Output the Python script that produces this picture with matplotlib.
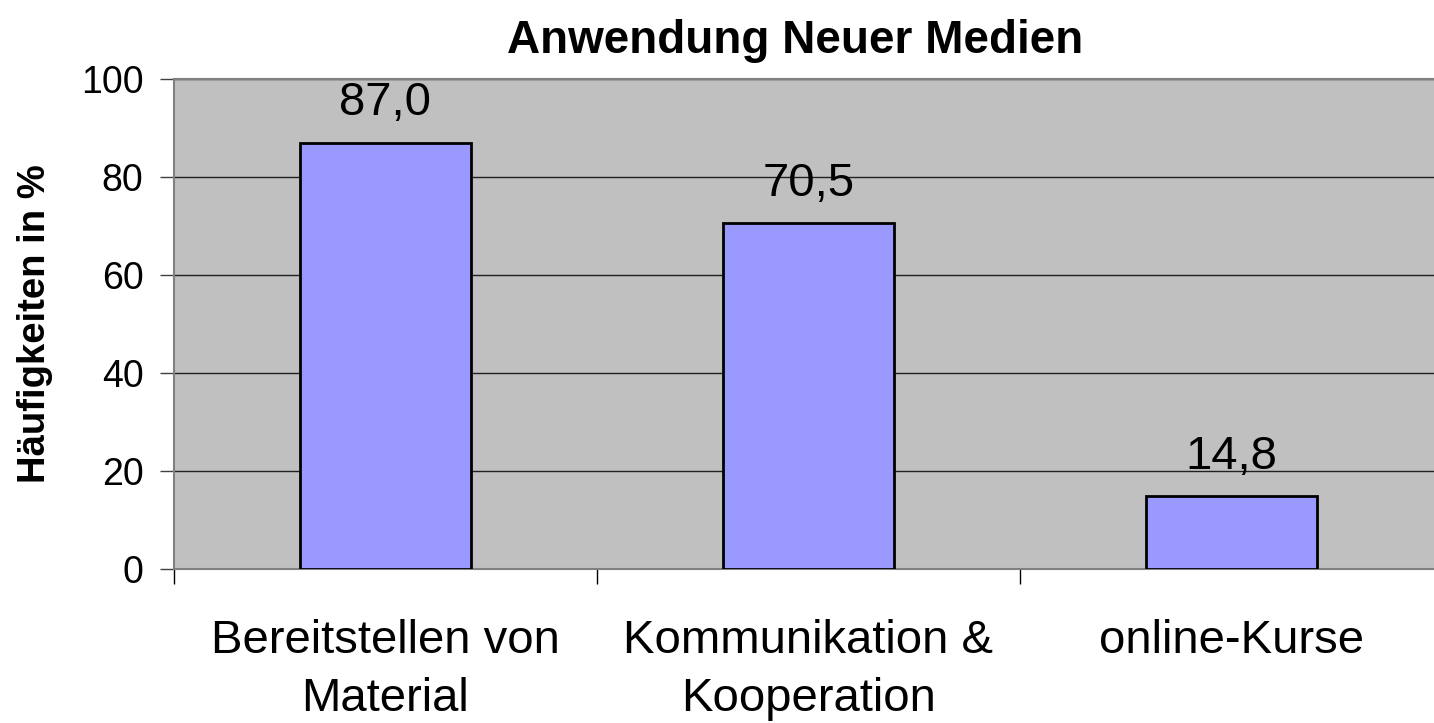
import numpy as np
import matplotlib.pyplot as plt

plt.rcParams['font.family'] = ['Liberation Sans', 'DejaVu Sans']

# data
categories = ['Bereitstellen von\nMaterial', 'Kommunikation &\nKooperation', 'online-Kurse']
values = [87.0, 70.5, 14.8]
yticks = [0, 20, 40, 60, 80, 100]

fig = plt.figure(figsize=(14.34, 7.23), dpi=100)
ax = fig.add_axes([0.1213, 0.213, 0.885, 0.678])
ax.set_facecolor('#C0C0C0')

x = np.arange(len(categories))
ax.bar(x, values, width=0.405, color='#9999FF', edgecolor='black', linewidth=2, zorder=3)

for xi, v in zip(x, values):
    ax.annotate(f'{v:.1f}'.replace('.', ','), (xi, v), xytext=(0, 20), textcoords='offset points',
                ha='center', va='baseline', fontsize=34)

ax.set_xlim(-0.5, len(categories) - 0.5)
ax.set_ylim(0, 100)
ax.set_yticks(yticks)
ax.yaxis.grid(True, color='#202020', linewidth=1, zorder=1)
ax.set_axisbelow(True)

# category ticks at the boundaries, labels centred
ax.set_xticks(x)
ax.set_xticklabels(categories, fontsize=34, linespacing=1.42)
ax.tick_params(axis='x', which='major', length=0, pad=36)
ax.set_xticks(np.arange(len(categories) + 1) - 0.5, minor=True)
ax.tick_params(axis='x', which='minor', length=11, width=1, color='black')
ax.tick_params(axis='y', labelsize=27, length=10, width=1, color='#404040', pad=12)

for s in ['left', 'bottom', 'top']:
    ax.spines[s].set_color('#808080')
    ax.spines[s].set_linewidth(1.5)
ax.spines['right'].set_visible(False)

ax.set_ylabel('Häufigkeiten in %', fontsize=27.5, fontweight='bold')
ax.yaxis.set_label_coords(-0.095, 0.5)
fig.text(0.5545, 1 - 53 / 723, 'Anwendung Neuer Medien', ha='center', va='baseline',
         fontsize=33, fontweight='bold')

fig.savefig('out.png', dpi=100)
